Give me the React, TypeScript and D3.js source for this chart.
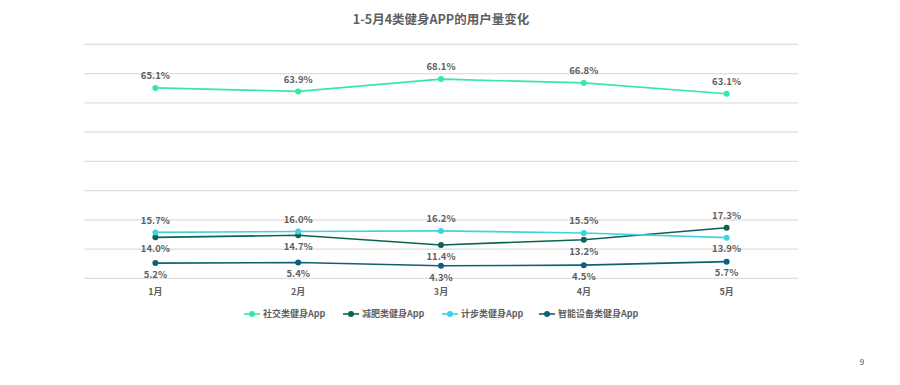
import React from "react";
import * as d3 from "d3";

const months = ["1月", "2月", "3月", "4月", "5月"];
const seriesNames = ["社交类健身App", "减肥类健身App", "计步类健身App", "智能设备类健身App"];
const social = [65.1, 63.9, 68.1, 66.8, 63.1];
const diet = [14.0, 14.7, 11.4, 13.2, 17.3];
const steps = [15.7, 16.0, 16.2, 15.5, 13.9];
const device = [5.2, 5.4, 4.3, 4.5, 5.7];
// label placement: 1 = above, -1 = below
const socialPos = [1, 1, 1, 1, 1];
const dietPos = [-1, -1, -1, -1, 1];
const stepsPos = [1, 1, 1, 1, -1];
const devicePos = [-1, -1, -1, -1, -1];
const yTicks = [0, 10, 20, 30, 40, 50, 60, 70, 80];
const colors = ["#34E8A9", "#0B6356", "#3ED4DF", "#0E5F7B"];
const title = "1-5月4类健身APP的用户量变化";
const pageNum = "9";

const FONT = "'Noto Sans CJK SC', 'Noto Sans', sans-serif";
const TEXT = "#5f5f5f";

export default function App() {
  const W = 900, H = 385;
  const x = d3.scaleBand<string>().domain(months).range([84, 798]);
  const y = d3.scaleLinear().domain([0, 80]).range([278.3, 44.3]);
  const cx = (m: string) => (x(m) as number) + x.bandwidth() / 2;
  const series = [
    { name: seriesNames[0], values: social, pos: socialPos, color: colors[0] },
    { name: seriesNames[1], values: diet, pos: dietPos, color: colors[1] },
    { name: seriesNames[2], values: steps, pos: stepsPos, color: colors[2] },
    { name: seriesNames[3], values: device, pos: devicePos, color: colors[3] },
  ];
  const line = d3
    .line<number>()
    .x((_, i) => cx(months[i]))
    .y((v) => y(v));
  const legendX = [244, 343, 442, 539];
  return (
    <svg
      width={W}
      height={H}
      style={{ position: "absolute", left: 0, top: 0, background: "#fff" }}
      fontFamily={FONT}
    >
      <rect width={W} height={H} fill="#fff" />
      <text x={441} y={24} textAnchor="middle" fontSize={12.5} fontWeight="bold" fill={TEXT}>
        {title}
      </text>
      {yTicks.map((t) => (
        <line key={t} x1={84} x2={798} y1={y(t)} y2={y(t)} stroke="#dedede" strokeWidth={1.2} />
      ))}
      {series.map((s) => (
        <g key={s.name}>
          <path d={line(s.values) || ""} fill="none" stroke={s.color} strokeWidth={1.6} />
          {s.values.map((v, i) => (
            <circle key={i} cx={cx(months[i])} cy={y(v)} r={3} fill={s.color} />
          ))}
        </g>
      ))}
      {series.map((s) => (
        <g key={s.name + "l"}>
          {s.values.map((v, i) => (
            <text
              key={i}
              x={cx(months[i])}
              y={y(v) + (s.pos[i] > 0 ? -12 : 11.5)}
              dy="0.35em"
              textAnchor="middle"
              fontSize={9.5}
              fontWeight="bold"
              fill={TEXT}
            >
              {v.toFixed(1)}%
            </text>
          ))}
        </g>
      ))}
      {months.map((m) => (
        <text key={m} x={cx(m)} y={292} dy="0.35em" textAnchor="middle" fontSize={9} fontWeight="bold" fill={TEXT}>
          {m}
        </text>
      ))}
      {series.map((s, i) => (
        <g key={s.name + "g"} transform={`translate(${legendX[i]},314)`}>
          <line x1={0} x2={16} y1={0} y2={0} stroke={s.color} strokeWidth={1.6} />
          <circle cx={8} cy={0} r={3} fill={s.color} />
          <text x={19} y={0} dy="0.35em" fontSize={9} fontWeight="bold" fill={TEXT}>
            {s.name}
          </text>
        </g>
      ))}
      <text x={862} y={362} dy="0.35em" textAnchor="middle" fontSize={8} fill="#4a4a4a">
        {pageNum}
      </text>
    </svg>
  );
}
